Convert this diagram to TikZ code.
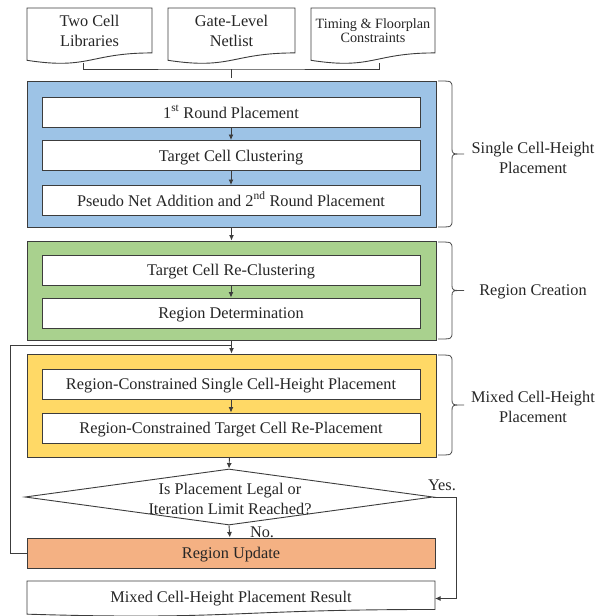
\documentclass[tikz,border=0pt]{standalone}
\usepackage{fontspec}
\setmainfont{Liberation Serif}
\usetikzlibrary{arrows.meta,shapes.geometric}
\definecolor{bluef}{HTML}{9DC3E6}
\definecolor{greenf}{HTML}{A9D18E}
\definecolor{yellowf}{HTML}{FFD966}
\definecolor{orangef}{HTML}{F4B183}
\definecolor{linec}{HTML}{3C3C3C}
\newcommand{\mydocpath}[4]{% x1, x2, top, height
  \pgfmathsetmacro{\dxm}{(#1+#2)/2}
  \pgfmathsetmacro{\dyr}{#3+0.802*#4}
  \pgfmathsetmacro{\dyl}{#3+0.934*#4}
  \pgfmathsetmacro{\dyc}{#3+1.107*#4}
  \draw[docline] (#1,#3) -- (#2,#3) -- (#2,\dyr) .. controls (\dxm,\dyr) and (\dxm,\dyc) .. (#1,\dyl) -- cycle;}
\newcommand{\phasebrace}[3]{% y1, y2, ymid
  \draw[bracel] (438,#1) .. controls (452,#1) .. (452,#1+7) -- (452,#3-6) .. controls (452,#3) .. (464,#3)
     .. controls (452,#3) .. (452,#3+6) -- (452,#2-7) .. controls (452,#2) .. (438,#2);}
\begin{document}
\begin{tikzpicture}[x=1pt,y=-1pt,
  every node/.style={font=\fontsize{16.3}{20}\selectfont, text=black!85},
  docline/.style={draw=linec, line width=0.9pt, fill=white},
  bracel/.style={draw=black!70, line width=0.8pt},
  outer/.style={draw=linec, line width=1pt, minimum width=409pt, inner sep=0pt},
  inbox/.style={draw=linec, line width=1pt, fill=white, minimum width=378pt, minimum height=30pt, inner sep=0pt, text height=12.5pt, text depth=1.5pt},
  arr/.style={draw=linec, line width=0.9pt, -{Latex[length=5.5pt,width=5pt]}},
  plain/.style={draw=linec, line width=0.9pt},
  lbl/.style={align=center}]
\useasboundingbox (0,0) rectangle (599,616);

% input documents
\mydocpath{27}{152}{8}{56}
\mydocpath{168}{295}{8}{56}
\mydocpath{311}{435}{8}{56}
\node[lbl] (d1) at (89.5,31) {Two Cell\\Libraries};
\node[lbl] (d2) at (231.5,31) {Gate-Level\\Netlist};
\node[lbl, font=\fontsize{14.2}{14.5}\selectfont] (d3) at (373,30.5) {Timing \& Floorplan\\Constraints};

% bracket joining inputs
\coordinate (bl) at (83,63);
\coordinate (br) at (379,63);
\coordinate (bc) at (231.5,69);
\coordinate (bd) at (231.5,77.5);
\draw[plain] (bl) |- (bc) -| (br);
\draw[plain] (bc) -- (bd);

% blue block
\node[outer, fill=bluef, minimum height=146pt] (blue) at (231.5,154) {};
\node[inbox] (b1) at (231,112.5) {1\textsuperscript{st} Round Placement};
\node[inbox] (b2) at (231,155.5) {Target Cell Clustering};
\node[inbox] (b3) at (231,200.5) {Pseudo Net Addition and 2\textsuperscript{nd} Round Placement};
\draw[arr] (b1) -- (b2);
\draw[arr] (b2) -- (b3);

% green block
\node[outer, fill=greenf, minimum height=99pt] (green) at (231.5,290.5) {};
\node[inbox] (g1) at (231,270) {Target Cell Re-Clustering};
\node[inbox] (g2) at (231,313) {Region Determination};
\draw[arr] (g1) -- (g2);
\draw[arr] (blue) -- (green);

% yellow block
\node[outer, fill=yellowf, minimum height=103pt] (yellow) at (231.5,405.5) {};
\node[inbox] (y1) at (231,384) {Region-Constrained Single Cell-Height Placement};
\node[inbox] (y2) at (231,428) {Region-Constrained Target Cell Re-Placement};
\draw[arr] (y1) -- (y2);

% decision
\node[diamond, draw=linec, line width=0.9pt, fill=white, minimum width=408pt, minimum height=56pt, inner sep=0pt, aspect=7.3] (dec) at (229,497) {};
\node[lbl] (dect) at (230,498.5) {Is Placement Legal or\\Iteration Limit Reached?};
\draw[arr] (yellow) -- (dec.north);

% region update
\node[inbox, fill=orangef, minimum width=408pt] (upd) at (231,553) {Region Update};
\draw[arr] (dec.south) -- (upd);
\node (no) at (262,532) {No.};

% loop back
\coordinate (loopL) at (10,345);
\coordinate (ljoin) at (231.5,345);
\draw[plain] (upd.west) -| (loopL) -- (ljoin);
\draw[arr] (green.south) -- (yellow.north);

% result
\mydocpath{27}{435}{581}{35.5}
\node[text height=12.5pt, text depth=1.5pt] (res) at (231,597) {Mixed Cell-Height Placement Result};
\coordinate (resE) at (435,598.5);
\coordinate (yesc) at (456,497);
\draw[arr] (dec.east) -- (yesc) |- (resE);
\node (yes) at (442,485) {Yes.};

% braces and phase labels
\phasebrace{81}{227}{154}
\phasebrace{242}{339}{290.5}
\phasebrace{355}{455}{405}
\node[lbl] (p1) at (533,157.5) {Single Cell-Height\\Placement};
\node[lbl] (p2) at (533,291.5) {Region Creation};
\node[lbl] (p3) at (533,406.5) {Mixed Cell-Height\\Placement};
\end{tikzpicture}
\end{document}
